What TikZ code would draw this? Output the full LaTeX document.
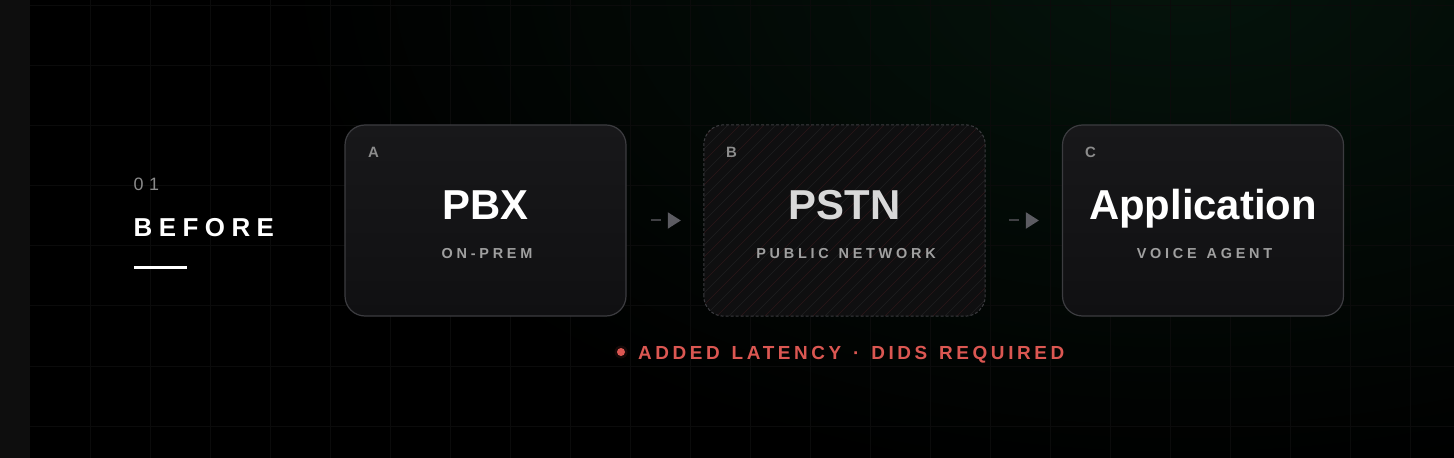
\documentclass[tikz,border=0pt]{standalone}
\usepackage{fontspec}
\setmainfont{Liberation Sans}
\usetikzlibrary{arrows.meta}
\definecolor{strip}{HTML}{0E0E0E}
\definecolor{gridc}{HTML}{0B0B0B}
\definecolor{glow}{HTML}{05140C}
\definecolor{boxtop}{HTML}{18181A}
\definecolor{boxbot}{HTML}{101012}
\definecolor{boxline}{HTML}{3C3C40}
\definecolor{pstnfill}{HTML}{0F0F10}
\definecolor{hatchg}{HTML}{1F1F21}
\definecolor{hatchr}{HTML}{2C1719}
\definecolor{lettc}{HTML}{8C8C8C}
\definecolor{subc}{HTML}{A0A0A0}
\definecolor{numc}{HTML}{8A8A8A}
\definecolor{redc}{HTML}{DB5752}
\definecolor{dashc}{HTML}{404044}
\definecolor{tipc}{HTML}{5C5C62}
\newfontfamily\subfam[LetterSpace=26]{Liberation Sans Bold}
\newfontfamily\notefam[LetterSpace=19]{Liberation Sans Bold}
\newfontfamily\numfam[LetterSpace=30]{Liberation Sans}
\newfontfamily\befam[LetterSpace=25]{Liberation Sans Bold}
\newcommand\mysubfont{\subfam\fontsize{14.5}{15}\selectfont}
\newcommand\mynotefont{\notefam\fontsize{19}{19}\selectfont}
\newcommand\subgap{\hspace{2bp} }
\newcommand\notegap{\hspace{3bp} }
\begin{document}
\begin{tikzpicture}[x=1bp,y=-1bp,
  box/.style={rounded corners=20bp, minimum width=281bp, minimum height=191bp,
    draw=boxline, line width=1.2bp, top color=boxtop, bottom color=boxbot, inner sep=0pt},
  pbox/.style={rounded corners=20bp, minimum width=281bp, minimum height=191bp,
    fill=pstnfill, inner sep=0pt},
  letter/.style={anchor=base west, inner sep=0pt, text=lettc, font=\fontsize{15}{15}\selectfont\bfseries},
  title/.style={anchor=base, inner sep=0pt, text=white, font=\fontsize{42}{42}\selectfont\bfseries},
  sub/.style={anchor=base, inner sep=0pt, text=subc, font=\mysubfont},
  conn/.style={draw=dashc, line width=2bp, dash pattern=on 10bp off 60bp,
    shorten <=24bp, shorten >=23bp, -{Triangle[length=13bp,width=16bp,color=tipc]}},
  hatch/.style={line width=0.6bp}
]
\useasboundingbox (0,0) rectangle (1454,458);
\fill[black] (0,0) rectangle (1454,458);
\begin{scope}
\clip (0,0) rectangle (1454,458);
\shade[inner color=glow, outer color=black] (1180,-30) ellipse [x radius=900, y radius=520];
\end{scope}
\fill[strip] (0,0) rectangle (30,458);
\foreach \x in {90,150,...,1450} \draw[gridc, line width=1bp] (\x,0) -- (\x,458);
\foreach \y in {6,66,...,450} \draw[gridc, line width=1bp] (30,\y) -- (1454,\y);

% left heading
\node[anchor=base west, inner sep=0pt, text=numc, font=\numfam\fontsize{18}{18}\selectfont] (num) at (133.5,190.5) {01};
\node[anchor=base west, inner sep=0pt, text=white, font=\befam\fontsize{26}{26}\selectfont] (before) at (133.5,236.5) {BEFORE};
\coordinate (ulA) at (134,268);
\coordinate (ulB) at (187,268);
\draw[white, line width=3bp] (ulA) -- (ulB);

% boxes
\node[box] (a) at (485.5,220.5) {};
\node[pbox] (b) at (844.5,220.5) {};
\begin{scope}
\clip[rounded corners=20bp] (b.south west) rectangle (b.north east);
\foreach \i in {0,...,40} {
  \pgfmathsetmacro{\xx}{704-191+\i*12}
  \ifodd\i
    \draw[hatch, hatchr] (\xx,316) -- ++(191,-191);
  \else
    \draw[hatch, hatchg] (\xx,316) -- ++(191,-191);
  \fi
}
\end{scope}
\draw[boxline, line width=1bp, dash pattern=on 3bp off 2bp, rounded corners=20bp] (b.south west) rectangle (b.north east);
\node[box] (c) at (1203,220.5) {};

% box texts
\node[letter] (la) at (368,158) {A};
\node[title] (ta) at (485.5,220) {PBX};
\node[sub] (sa) at (487,259) {ON-PREM};

\node[letter] (lb) at (726,158) {B};
\node[title, text=white!85!black] (tb) at (844.5,220) {PSTN};
\node[sub] (sb) at (846,259) {PUBLIC\subgap NETWORK};

\node[letter] (lc) at (1085,158) {C};
\node[title] (tc) at (1203,220) {Application};
\node[sub] (sc) at (1204.5,259) {VOICE\subgap AGENT};

% connectors
\draw[conn] (a.east) -- (b.west);
\draw[conn] (b.east) -- (c.west);

% red note
\fill[redc, opacity=0.10] (621,352) circle (6.5bp);
\fill[redc] (621,352) circle (4bp);
\node[anchor=base west, inner sep=0pt, text=redc, font=\mynotefont] (note) at (638,360) {ADDED\notegap LATENCY\notegap ·\notegap DIDS\notegap REQUIRED};
\end{tikzpicture}
\end{document}
